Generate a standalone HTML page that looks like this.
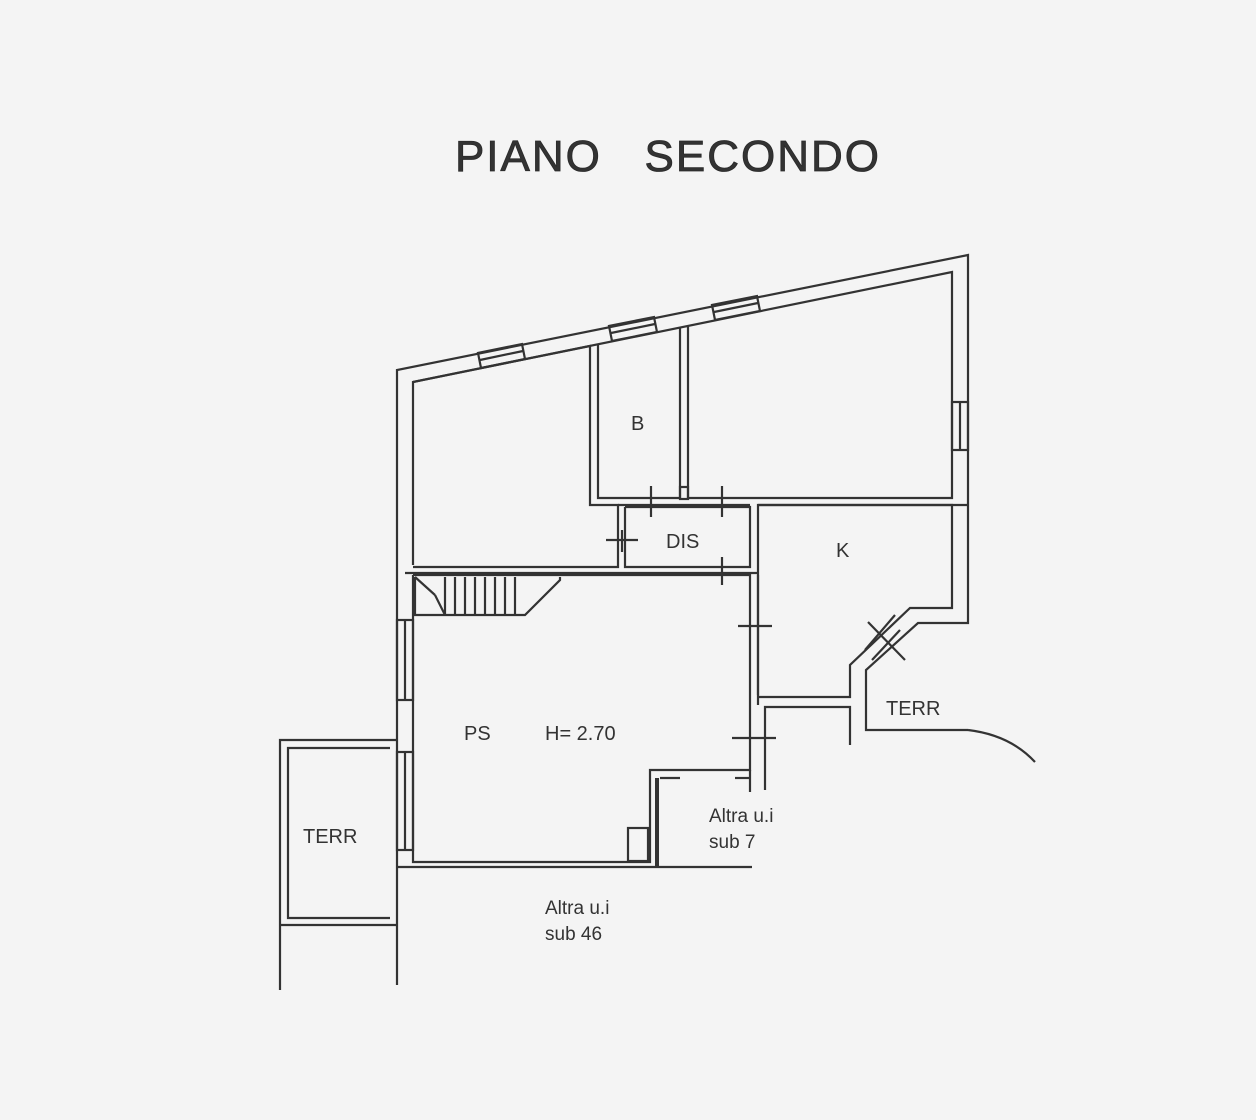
<!DOCTYPE html>
<html><head><meta charset="utf-8"><style>
body{margin:0;background:#f4f4f4;}
svg{display:block}
text{font-family:"Liberation Sans",sans-serif;fill:#333}
</style></head><body>
<svg width="1256" height="1120" viewBox="0 0 1256 1120" xmlns="http://www.w3.org/2000/svg">
<rect width="1256" height="1120" fill="#f4f4f4"/>
<text x="668" y="171" font-size="44" text-anchor="middle" fill="#2a2a2a" style="letter-spacing:2px;stroke:#2a2a2a;stroke-width:0.8">PIANO&#160;&#160;&#160;SECONDO</text>
<g fill="none" stroke="#333" stroke-width="2.2">
<polyline points="397,865 397,370 968,255 968,623 918,623 866,670 866,730 968,730"/>
<path d="M968,730 Q1010,735 1035,762"/>
<polyline points="413,565 413,382 590,346 590,505 618,505 618,567 413,567"/>
<polyline points="598,345 598,498 680,498 680,328"/>
<polyline points="688,326 688,498 952,498 952,272 413,382"/>
<polyline points="625,507 750,507 750,567 625,567 625,507"/>
<line x1="618" y1="505" x2="750" y2="505"/>
<rect x="680" y="487" width="8" height="12"/>
<polyline points="758,695 758,505 952,505 952,608 910,608 850,665 850,697 758,697"/>
<line x1="758" y1="505" x2="968" y2="505"/>
<polyline points="765,790 765,707 850,707 850,745"/>
<polyline points="413,575 750,575 750,770 650,770 650,862 413,862 413,575"/>
<polyline points="758,575 758,705"/>
<line x1="405" y1="573" x2="758" y2="573"/>
<line x1="397" y1="867" x2="752" y2="867"/>
<line x1="657" y1="778" x2="657" y2="867" stroke-width="4"/>
<rect x="628" y="828" width="20" height="33"/>
<line x1="660" y1="778" x2="680" y2="778"/>
<line x1="735" y1="778" x2="750" y2="778"/>
<line x1="750" y1="770" x2="750" y2="792"/>
<polyline points="415,577 415,615 525,615 560,580 560,577"/>
<line x1="415" y1="577" x2="435" y2="595"/>
<line x1="435" y1="595" x2="445" y2="615"/>
<line x1="445" y1="577" x2="445" y2="615"/><line x1="455" y1="577" x2="455" y2="615"/><line x1="465" y1="577" x2="465" y2="615"/><line x1="475" y1="577" x2="475" y2="615"/><line x1="485" y1="577" x2="485" y2="615"/><line x1="495" y1="577" x2="495" y2="615"/><line x1="505" y1="577" x2="505" y2="615"/><line x1="515" y1="577" x2="515" y2="615"/>
<polyline points="397,740 280,740 280,990"/>
<polyline points="390,748 288,748 288,918 390,918"/>
<line x1="280" y1="925" x2="397" y2="925"/>
<line x1="397" y1="865" x2="397" y2="985"/>
<rect x="397" y="620" width="16" height="80"/>
<line x1="405" y1="620" x2="405" y2="700"/>
<rect x="397" y="752" width="16" height="98"/>
<line x1="405" y1="752" x2="405" y2="850"/>
<rect x="952" y="402" width="16" height="48"/>
<line x1="960" y1="402" x2="960" y2="450"/>
<polygon points="478,353 522,344 525,359 481,368"/><line x1="480" y1="360" x2="523" y2="351"/>
<polygon points="609,326 654,317 657,332 612,341"/><line x1="611" y1="333" x2="655" y2="324"/>
<polygon points="712,305 757,296 760,311 715,320"/><line x1="714" y1="312" x2="758" y2="303"/>
<line x1="651" y1="486" x2="651" y2="517"/><line x1="722" y1="486" x2="722" y2="517"/>
<line x1="606" y1="540" x2="638" y2="540"/><line x1="622" y1="530" x2="622" y2="552"/>
<line x1="722" y1="557" x2="722" y2="585"/>
<line x1="738" y1="626" x2="772" y2="626"/><line x1="732" y1="738" x2="776" y2="738"/>
<line x1="868" y1="622" x2="905" y2="660"/>
<line x1="865" y1="650" x2="895" y2="615"/>
<line x1="872" y1="660" x2="900" y2="630"/>
</g>
<g font-size="20">
<text x="631" y="430">B</text>
<text x="666" y="548">DIS</text>
<text x="836" y="557">K</text>
<text x="886" y="715">TERR</text>
<text x="303" y="843">TERR</text>
<text x="464" y="740">PS</text>
<text x="545" y="740">H= 2.70</text>
<text x="709" y="822" font-size="19">Altra u.i</text>
<text x="709" y="848" font-size="19">sub 7</text>
<text x="545" y="914" font-size="19">Altra u.i</text>
<text x="545" y="940" font-size="19">sub 46</text>
</g>
</svg>
</body></html>
